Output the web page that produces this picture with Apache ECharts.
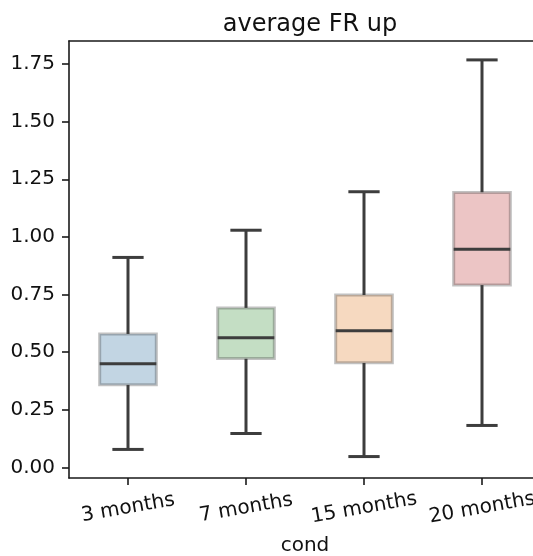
<!DOCTYPE html>
<html>
<head>
<meta charset="utf-8">
<script src="https://cdn.jsdelivr.net/npm/echarts@6/dist/echarts.min.js"></script>
<style>html,body{margin:0;padding:0;background:#fff;}#c{width:533px;height:556px;}</style>
</head>
<body>
<div id="c"></div>
<script>
const categories = ['3 months', '7 months', '15 months', '20 months'];
const whiskerLow = [0.078, 0.147, 0.047, 0.182];
const q1 = [0.359, 0.472, 0.454, 0.791];
const median = [0.450, 0.563, 0.593, 0.947];
const q3 = [0.579, 0.692, 0.748, 1.193];
const whiskerHigh = [0.911, 1.029, 1.196, 1.768];
const yTicks = [0, 0.25, 0.5, 0.75, 1.0, 1.25, 1.5, 1.75];
const fillColors = ['#c2d5e3', '#c4dec4', '#f6d9c0', '#ecc5c5'];

const FONT = 'DejaVu Sans';
const data = categories.map((c, i) => [i, whiskerLow[i], q1[i], median[i], q3[i], whiskerHigh[i]]);

const chart = echarts.init(document.getElementById('c'), null, {renderer: 'canvas'});
const lineCol = '#3d3d3d';
const axisCol = '#1a1a1a';
chart.setOption({
  animation: false,
  backgroundColor: '#fff',
  title: {
    text: 'average FR up', left: 305, top: 8, textAlign: 'center',
    textStyle: {fontFamily: FONT, fontSize: 24, fontWeight: 'normal', color: '#111'}
  },
  grid: {left: 69, width: 472, top: 41, bottom: 78, containLabel: false, outerBoundsMode: 'none'},
  xAxis: [{
    type: 'value', min: -0.5, max: 3.5, position: 'bottom',
    name: 'cond', nameLocation: 'middle', nameGap: 68, nameMoveOverlap: false,
    nameTextStyle: {fontFamily: FONT, fontSize: 20, color: '#111', verticalAlign: 'middle'},
    axisLine: {show: true, onZero: false, lineStyle: {color: axisCol, width: 1.6}},
    axisTick: {show: true, length: 7, customValues: [0, 1, 2, 3], lineStyle: {color: axisCol, width: 1.6}},
    axisLabel: {
      show: true, customValues: [0, 1, 2, 3], rotate: 10, align: 'center', verticalAlign: 'middle', margin: 30,
      fontFamily: FONT, fontSize: 20, color: '#111',
      formatter: v => categories[Math.round(v)]
    },
    splitLine: {show: false}
  }, {
    type: 'value', min: -0.5, max: 3.5, position: 'top',
    axisLine: {show: true, onZero: false, lineStyle: {color: axisCol, width: 1.6}},
    axisTick: {show: false}, axisLabel: {show: false}, splitLine: {show: false}
  }],
  yAxis: {
    type: 'value', min: -0.046, max: 1.850,
    axisLine: {show: true, onZero: false, lineStyle: {color: axisCol, width: 1.6}},
    axisTick: {show: true, length: 7, customValues: yTicks, lineStyle: {color: axisCol, width: 1.6}},
    axisLabel: {
      show: true, customValues: yTicks, margin: 14,
      fontFamily: FONT, fontSize: 20, color: '#111',
      formatter: v => v.toFixed(2)
    },
    splitLine: {show: false}
  },
  series: [{
    type: 'custom',
    xAxisIndex: 0,
    data: data,
    encode: {x: 0, y: [1, 2, 3, 4, 5]},
    renderItem: function (params, api) {
      const x = api.value(0);
      const lo = api.coord([x, api.value(1)]);
      const b1 = api.coord([x, api.value(2)]);
      const md = api.coord([x, api.value(3)]);
      const b3 = api.coord([x, api.value(4)]);
      const hi = api.coord([x, api.value(5)]);
      const bw = api.size([0.48, 0])[0];
      const cw = api.size([0.265, 0])[0];
      const cx = lo[0];
      const lw = 3;
      const ls = {stroke: lineCol, lineWidth: lw};
      return {
        type: 'group',
        children: [
          {type: 'line', shape: {x1: cx, y1: b1[1], x2: cx, y2: lo[1]}, style: ls},
          {type: 'line', shape: {x1: cx, y1: b3[1], x2: cx, y2: hi[1]}, style: ls},
          {type: 'line', shape: {x1: cx - cw / 2, y1: lo[1], x2: cx + cw / 2, y2: lo[1]}, style: ls},
          {type: 'line', shape: {x1: cx - cw / 2, y1: hi[1], x2: cx + cw / 2, y2: hi[1]}, style: ls},
          {type: 'rect', shape: {x: cx - bw / 2, y: b3[1], width: bw, height: b1[1] - b3[1]},
            style: {fill: fillColors[params.dataIndex], stroke: 'rgba(61,61,61,0.32)', lineWidth: 3}},
          {type: 'line', shape: {x1: cx - bw / 2, y1: md[1], x2: cx + bw / 2, y2: md[1]}, style: ls}
        ]
      };
    }
  }]
});
</script>
</body>
</html>
